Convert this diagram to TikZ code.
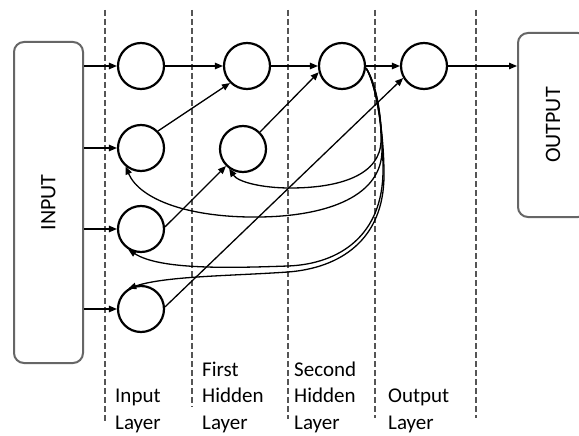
\documentclass[tikz,border=0pt]{standalone}
\usepackage{fontspec}
\setmainfont{Carlito}
\usetikzlibrary{arrows.meta}
\definecolor{divgray}{HTML}{555555}
\definecolor{boxgray}{HTML}{666666}
\begin{document}
\begin{tikzpicture}[x=1pt,y=-1pt,
  neuron/.style={circle,draw,line width=2.2pt,minimum size=46pt,inner sep=0pt},
  iobox/.style={draw=boxgray,line width=2pt,rounded corners=10pt,inner sep=0pt},
  conn/.style={line width=1.3pt,-{Triangle[length=8pt,width=6.5pt]}},
  divider/.style={draw=divgray,line width=2pt,dash pattern=on 6pt off 3pt},
  lbl/.style={font=\fontsize{21}{26}\selectfont,anchor=base west,inner sep=0pt},
  boxlbl/.style={font=\fontsize{22}{26}\selectfont,rotate=90,inner sep=0pt}]
\clip (0,0) rectangle (579,436);
\fill[white] (0,0) rectangle (579,436);

% layer dividers
\draw[divider] (105,10) -- (105,421);
\draw[divider] (192,10) -- (192,407);
\draw[divider] (288,10) -- (288,419);
\draw[divider] (375,10) -- (375,418);
\draw[divider] (476,10) -- (476,418);

% input / output boxes
\node[iobox,minimum width=69pt,minimum height=321pt] (inbox) at (48.5,202.5) {};
\node[boxlbl] (inlabel) at (inbox) {INPUT};
\node[iobox,minimum width=70pt,minimum height=184pt] (outbox) at (553,125) {};
\node[boxlbl] (outlabel) at (outbox) {OUTPUT};

% neurons
\node[neuron] (i1) at (141,66) {};
\node[neuron] (i2) at (141,148) {};
\node[neuron] (i3) at (141,229) {};
\node[neuron] (i4) at (141,309) {};
\node[neuron] (h11) at (247,66) {};
\node[neuron] (h12) at (243,149) {};
\node[neuron] (h21) at (342,66) {};
\node[neuron] (o) at (424,66) {};

% input arrows
\foreach \n in {i1,i2,i3,i4}
  \draw[conn] (inbox.east |- \n) -- (\n);

% forward connections
\draw[conn] (i1) -- (h11);
\draw[conn] (i2.45) -- (h11.-135);
\draw[conn] (i3.5) -- (h12.-135);
\draw[conn] (i4.5) -- (o.-150);
\draw[conn] (h11) -- (h21);
\draw[conn] (h12.45) -- (h21.-165);
\draw[conn] (h21) -- (o);
\draw[conn] (o) -- (o -| outbox.west);

% feedback connections
\draw[conn] (h21.-5) .. controls (374,80) and (381,105) .. (381,140)
  .. controls (381,175) and (340,188) .. (290,188)
  .. controls (262,188) and (238,182) .. (h12.-125);
\draw[conn] (h21.-5) .. controls (374,80) and (382,110) .. (382,150)
  .. controls (382,195) and (330,216) .. (260,217)
  .. controls (190,218) and (140,200) .. (i2.-130);
\draw[conn] (h21.-5) .. controls (374,80) and (383,120) .. (383,170)
  .. controls (383,235) and (340,264) .. (288,266)
  .. controls (230,268) and (160,270) .. (i3.-122);
\draw[conn] (h21.-5) .. controls (374,80) and (384,125) .. (384,175)
  .. controls (384,240) and (340,268) .. (288,272)
  .. controls (230,276) and (165,276) .. (i4.122);

% layer labels
\node[lbl] (l1a) at (115,402.5) {Input};
\node[lbl] (l1b) at (115,429) {Layer};
\node[lbl] (l2a) at (202,376) {First};
\node[lbl] (l2b) at (202,402.5) {Hidden};
\node[lbl] (l2c) at (202,429) {Layer};
\node[lbl] (l3a) at (294,376) {Second};
\node[lbl] (l3b) at (294,402.5) {Hidden};
\node[lbl] (l3c) at (294,429) {Layer};
\node[lbl] (l4a) at (388,402.5) {Output};
\node[lbl] (l4b) at (388,429) {Layer};
\end{tikzpicture}
\end{document}
